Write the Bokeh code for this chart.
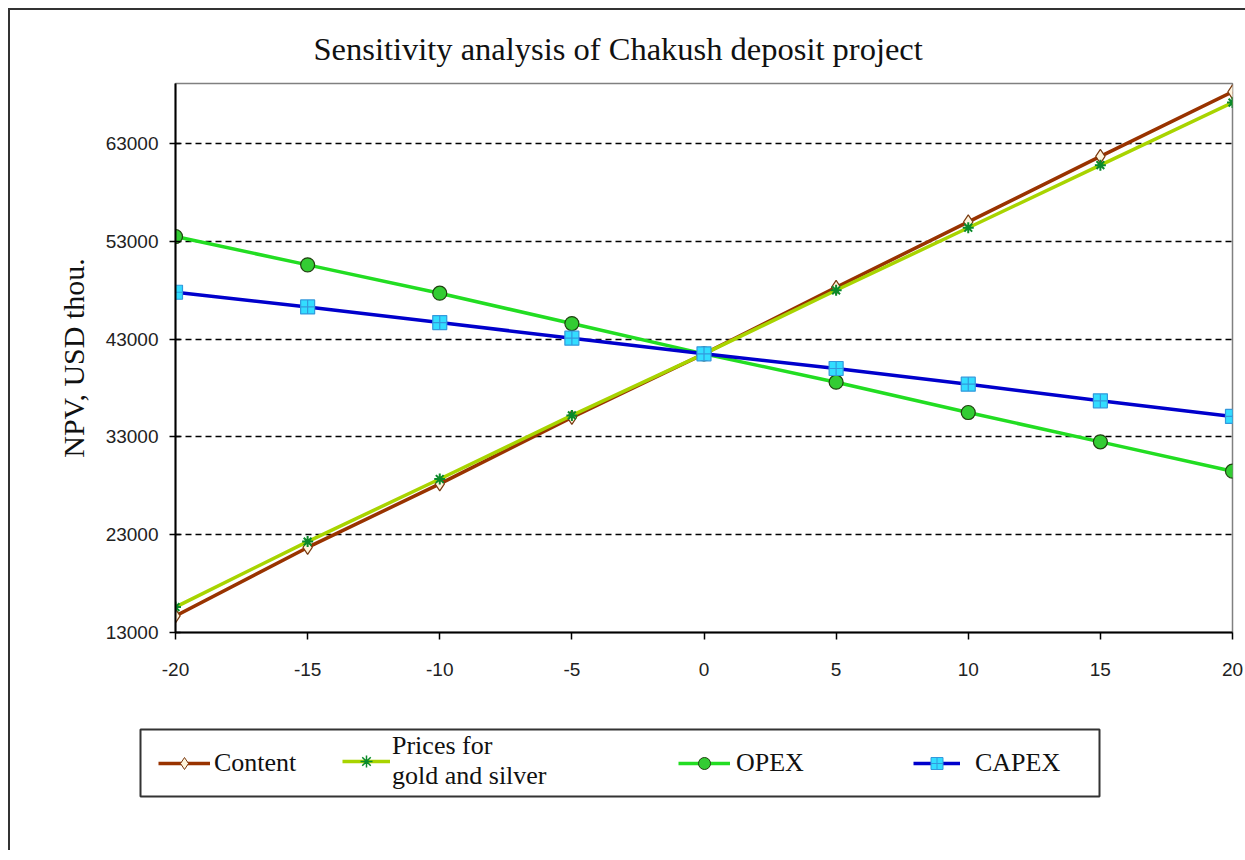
from bokeh.plotting import figure
from bokeh.layouts import column
from bokeh.models import Range1d, FixedTicker, Legend, LegendItem, Title
from bokeh.embed import file_html
from bokeh.resources import INLINE

# ---- data ----
change_pct = [-20, -15, -10, -5, 0, 5, 10, 15, 20]
content = [14700, 21700, 28200, 35000, 41500, 48300, 55000, 61700, 68300]
prices = [15600, 22300, 28700, 35200, 41500, 48000, 54400, 60800, 67200]
opex = [53500, 50600, 47700, 44600, 41500, 38600, 35500, 32500, 29500]
capex = [47800, 46300, 44700, 43100, 41500, 40000, 38400, 36700, 35100]
y_ticks = [13000, 23000, 33000, 43000, 53000, 63000]
x_ticks = [-20, -15, -10, -5, 0, 5, 10, 15, 20]
title_text = "Sensitivity analysis of Chakush deposit project"
y_label = "NPV, USD thou."
series_names = ["Content", "Prices for\ngold and silver", "OPEX", "CAPEX"]

SERIF = "Liberation Serif"
SANS = "Liberation Sans"

styles = {
    "content": dict(line_color="#993300", marker="diamond", fill="#fff4dc", edge="#7a3a10", size=14),
    "prices": dict(line_color="#a8d400", marker="asterisk", fill="#0a8a2a", edge="#0a8a2a", size=11),
    "opex": dict(line_color="#22dd22", marker="circle", fill="#33cc33", edge="#204010", size=14),
    "capex": dict(line_color="#0000cc", marker="square_cross", fill="#33ddff", edge="#3399dd", size=14),
}

p = figure(width=1235, height=715, output_backend="svg", toolbar_location=None,
           x_range=Range1d(-20, 20), y_range=Range1d(13000, 69150),
           min_border_left=165, min_border_top=73, min_border_right=13, min_border_bottom=93,
           background_fill_color="white", border_fill_color="white")
p.frame_align = False

p.outline_line_color = "#808080"
p.outline_line_width = 1.5

ttl = Title(text=title_text, align="left", offset=138, standoff=33,
            text_font=SERIF, text_font_size="32.5px", text_font_style="normal",
            text_color="#111111")
p.add_layout(ttl, "above")

# axes
p.xaxis.ticker = FixedTicker(ticks=x_ticks)
p.xaxis.major_label_overrides = {t: str(t) for t in x_ticks}
p.yaxis.ticker = FixedTicker(ticks=y_ticks)
p.yaxis.major_label_overrides = {t: str(t) for t in y_ticks}
for ax in (p.xaxis, p.yaxis):
    ax.axis_line_color = "black"
    ax.axis_line_width = 2
    ax.major_tick_line_color = "black"
    ax.major_tick_line_width = 1.5
    ax.minor_tick_line_color = None
    ax.major_label_text_font = SANS
    ax.major_label_text_font_size = "19px"
    ax.major_label_text_color = "#222222"
p.xaxis.major_tick_in = 0
p.xaxis.major_tick_out = 7
p.xaxis.major_label_standoff = 23
p.yaxis.major_tick_in = 5
p.yaxis.major_tick_out = 6
p.yaxis.major_label_standoff = 11
p.yaxis.axis_label = y_label
p.yaxis.axis_label_text_font = SERIF
p.yaxis.axis_label_text_font_size = "30px"
p.yaxis.axis_label_text_font_style = "normal"
p.yaxis.axis_label_text_color = "#111111"
p.yaxis.axis_label_standoff = 13

# grid
p.xgrid.grid_line_color = None
p.ygrid.grid_line_color = "black"
p.ygrid.grid_line_dash = "6 4"
p.ygrid.grid_line_width = 1.5

series = [("content", content), ("prices", prices), ("opex", opex), ("capex", capex)]
for key, vals in series:
    s = styles[key]
    p.line(change_pct, vals, line_color=s["line_color"], line_width=3.5)
    p.scatter(change_pct, vals, marker=s["marker"], size=s["size"], fill_color=s["fill"],
              line_color=s["edge"], line_width=2 if key == "prices" else 1.2)

# ---- legend panel (box drawn as the frame outline of a small figure) ----
lg = figure(width=1235, height=125, output_backend="svg", toolbar_location=None,
            x_range=Range1d(0, 1), y_range=Range1d(0, 1),
            x_axis_type=None, y_axis_type=None,
            min_border_left=130, min_border_right=146, min_border_top=4, min_border_bottom=54,
            background_fill_color="white", border_fill_color="white")
lg.frame_align = False
lg.xgrid.grid_line_color = None
lg.ygrid.grid_line_color = None
lg.outline_line_color = "#333333"
lg.outline_line_width = 2

# swatch renderers live outside the visible range: only their legend samples show
legend_pos = {"content": (18, 18, 52, 4), "prices": (202, 5, 48, 2),
              "opex": (538, 18, 52, 6), "capex": (773, 18, 47, 15)}
for (key, _), name in zip(series, series_names):
    s = styles[key]
    rl = lg.line([-5, -4], [-5, -4], line_color=s["line_color"], line_width=3.5)
    rm = lg.scatter([-5], [-5], marker=s["marker"], size=s["size"] - 4, fill_color=s["fill"],
                    line_color=s["edge"], line_width=1.5 if key == "prices" else 1)
    xloc, yloc, gw, stand = legend_pos[key]
    leg = Legend(items=[LegendItem(label=name, renderers=[rl, rm])],
                 location=(xloc, yloc), orientation="horizontal",
                 glyph_width=gw, glyph_height=30, label_height=30, label_standoff=stand,
                 padding=0, margin=0, spacing=0,
                 label_text_font=SERIF, label_text_font_size="26px",
                 label_text_color="#111111", label_text_line_height=1.05,
                 border_line_alpha=0, background_fill_alpha=0)
    lg.add_layout(leg, "center")

page = column(p, lg, spacing=0)
page.styles = {"margin-left": "8px", "margin-top": "8px",
               "border-left": "2px solid #333333", "border-top": "2px solid #333333",
               "border-right": "0px none", "border-bottom": "0px none"}

open("out.html", "w").write(file_html(page, INLINE))
